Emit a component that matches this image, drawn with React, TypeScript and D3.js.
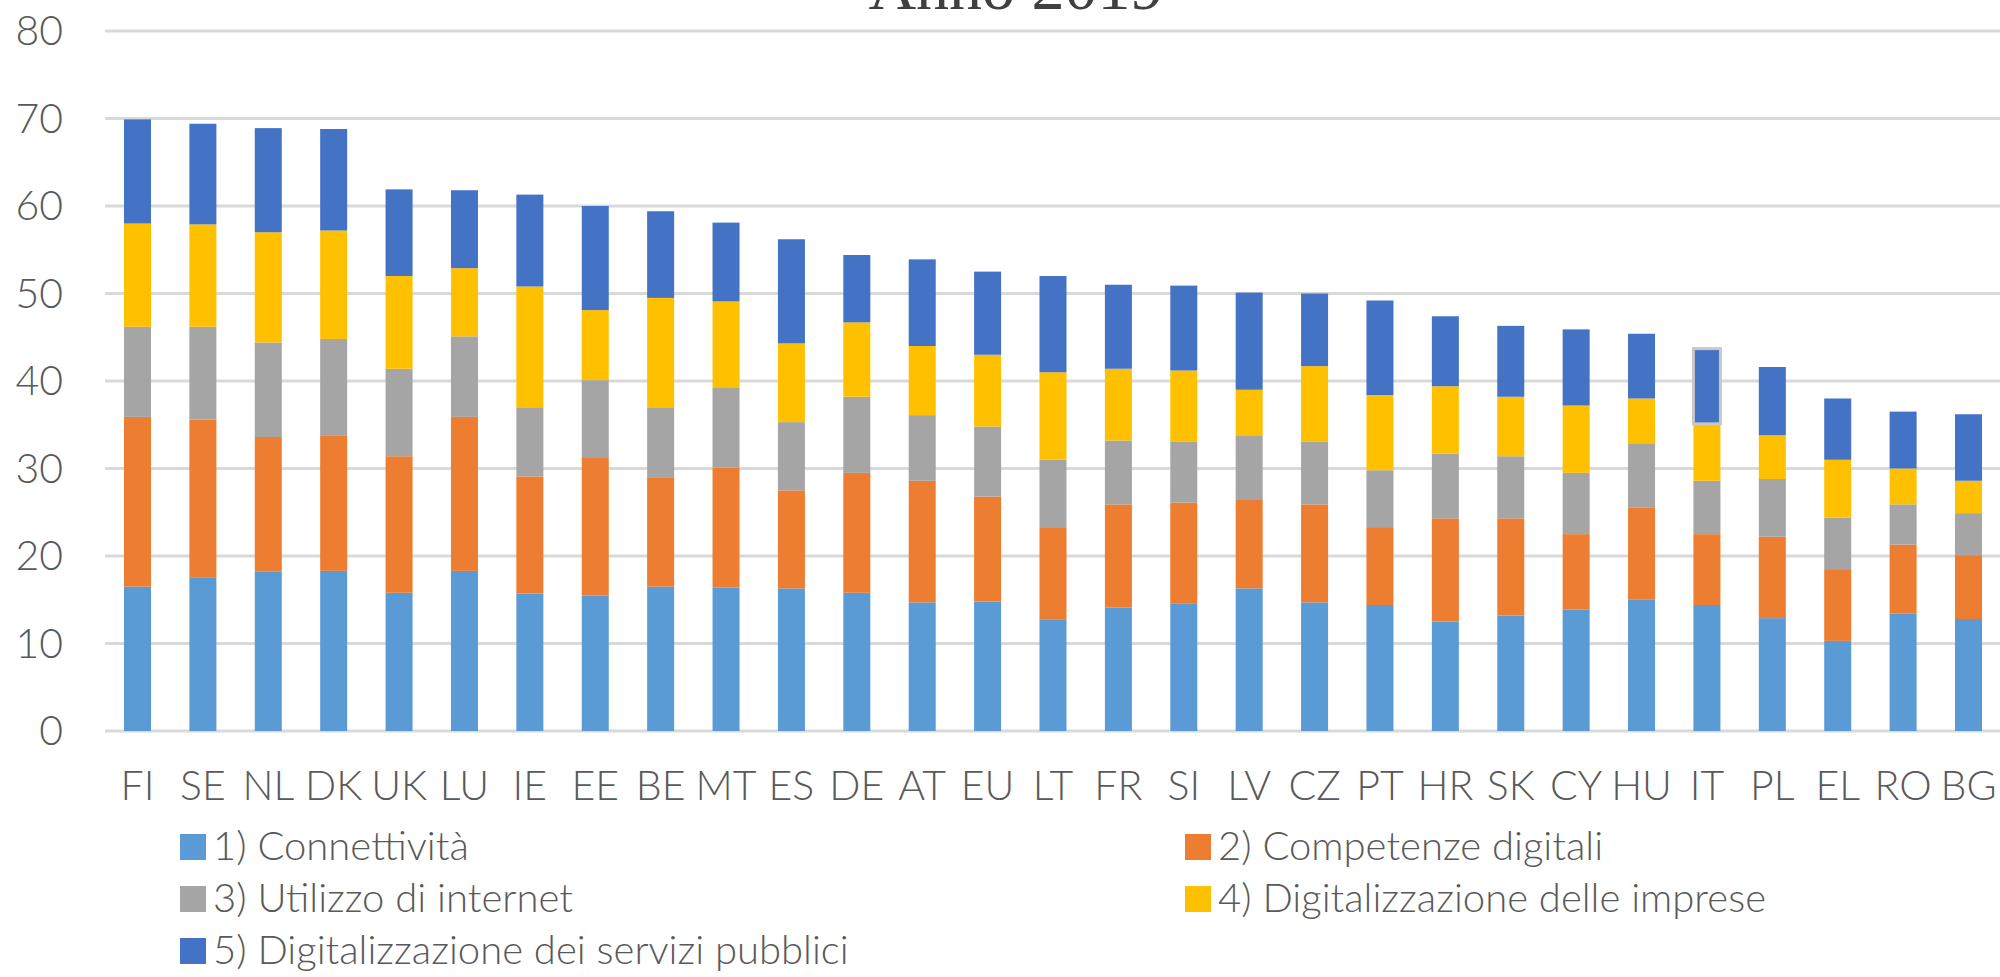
import * as d3 from "d3";
import { useMemo } from "react";

// DESI 2019 - punteggi per dimensione
const paesi = ["FI", "SE", "NL", "DK", "UK", "LU", "IE", "EE", "BE", "MT", "ES", "DE", "AT", "EU", "LT", "FR", "SI", "LV", "CZ", "PT", "HR", "SK", "CY", "HU", "IT", "PL", "EL", "RO", "BG"];

const connettivita = [16.5, 17.5, 18.2, 18.3, 15.8, 18.3, 15.7, 15.5, 16.5, 16.4, 16.3, 15.8, 14.7, 14.8, 12.7, 14.1, 14.6, 16.3, 14.7, 14.4, 12.5, 13.2, 13.9, 15.0, 14.4, 12.9, 10.3, 13.4, 12.8];
const competenze = [19.4, 18.1, 15.4, 15.5, 15.6, 17.6, 13.4, 15.7, 12.5, 13.7, 11.2, 13.7, 13.9, 12.0, 10.5, 11.8, 11.5, 10.1, 11.2, 8.9, 11.8, 11.1, 8.6, 10.5, 8.1, 9.3, 8.2, 7.9, 7.3];
const utilizzo = [10.3, 10.6, 10.8, 11.0, 10.0, 9.2, 7.9, 8.9, 8.0, 9.1, 7.8, 8.7, 7.5, 8.0, 7.8, 7.3, 7.0, 7.4, 7.2, 6.5, 7.4, 7.1, 7.0, 7.3, 6.1, 6.6, 5.9, 4.6, 4.8];
const imprese = [11.8, 11.7, 12.6, 12.4, 10.6, 7.8, 13.8, 8.0, 12.5, 9.9, 9.0, 8.5, 7.9, 8.2, 10.0, 8.2, 8.1, 5.2, 8.6, 8.6, 7.7, 6.8, 7.7, 5.2, 6.5, 5.0, 6.6, 4.1, 3.7];
const servizi = [11.9, 11.5, 11.9, 11.6, 9.9, 8.9, 10.5, 11.9, 9.9, 9.0, 11.9, 7.7, 9.9, 9.5, 11.0, 9.6, 9.7, 11.1, 8.3, 10.8, 8.0, 8.1, 8.7, 7.4, 8.6, 7.8, 7.0, 6.5, 7.6];

const serie = [
  "1) Connettività",
  "2) Competenze digitali",
  "3) Utilizzo di internet",
  "4) Digitalizzazione delle imprese",
  "5) Digitalizzazione dei servizi pubblici",
];
const colori = ["#5b9bd5", "#ed7d31", "#a5a5a5", "#ffc000", "#4472c4"];
const yTicks = [0, 10, 20, 30, 40, 50, 60, 70, 80];
const titolo = "Anno 2019";
const evidenziato = "IT";

const width = 2000;
const height = 977;
const font = "Lato, 'Open Sans', sans-serif";
const grigio = "#595959";

export default function App() {
  const rows = useMemo(
    () =>
      paesi.map((p, i) => ({
        paese: p,
        [serie[0]]: connettivita[i],
        [serie[1]]: competenze[i],
        [serie[2]]: utilizzo[i],
        [serie[3]]: imprese[i],
        [serie[4]]: servizi[i],
      })),
    []
  );

  const stacked = useMemo(() => d3.stack().keys(serie)(rows as any), [rows]);

  const x = d3.scaleBand().domain(paesi).range([104.8, 2001.2]).paddingInner(0.587).paddingOuter(0.2935);
  const y = d3.scaleLinear().domain([0, 80]).range([731, 31]);

  // legenda su due colonne
  const legendPos = serie.map((s, i) => ({
    s,
    colore: colori[i],
    x: i % 2 === 0 ? 180 : 1185,
    y: 860 + Math.floor(i / 2) * 52,
  }));

  return (
    <svg width={width} height={height} style={{ position: "absolute", left: 0, top: 0, background: "#fff" }}>
      <rect width={width} height={height} fill="#fff" />
      <text x={1016} y={9} textAnchor="middle" fontFamily="'Liberation Serif', serif" fontSize={66} fill="#404040">
        {titolo}
      </text>

      <g>
        {yTicks.map((t) => (
          <g key={t}>
            <line x1={105} x2={2000} y1={y(t)} y2={y(t)} stroke="#d9d9d9" strokeWidth={3} />
            <text x={63} y={y(t)} dy="0.35em" textAnchor="end" fontFamily={font} fontWeight={300} fontSize={41} fill={grigio}>
              {t}
            </text>
          </g>
        ))}
      </g>

      <g>
        {stacked.map((layer, li) => (
          <g key={layer.key} fill={colori[li]}>
            {layer.map((d: any) => (
              <rect
                key={d.data.paese}
                x={x(d.data.paese)}
                y={y(d[1])}
                width={x.bandwidth()}
                height={y(d[0]) - y(d[1])}
                stroke={li === 4 && d.data.paese === evidenziato ? "#c8c8c8" : "none"}
                strokeWidth={3}
              />
            ))}
          </g>
        ))}
      </g>

      <g>
        {paesi.map((p) => (
          <text key={p} x={(x(p) ?? 0) + x.bandwidth() / 2} y={800} textAnchor="middle" fontFamily={font} fontWeight={300} fontSize={41} fill={grigio}>
            {p}
          </text>
        ))}
      </g>

      <g>
        {legendPos.map((l) => (
          <g key={l.s}>
            <rect x={l.x} y={l.y - 26} width={26} height={26} fill={l.colore} />
            <text x={l.x + 33} y={l.y} fontFamily={font} fontWeight={300} fontSize={40} fill={grigio}>
              {l.s}
            </text>
          </g>
        ))}
      </g>
    </svg>
  );
}
